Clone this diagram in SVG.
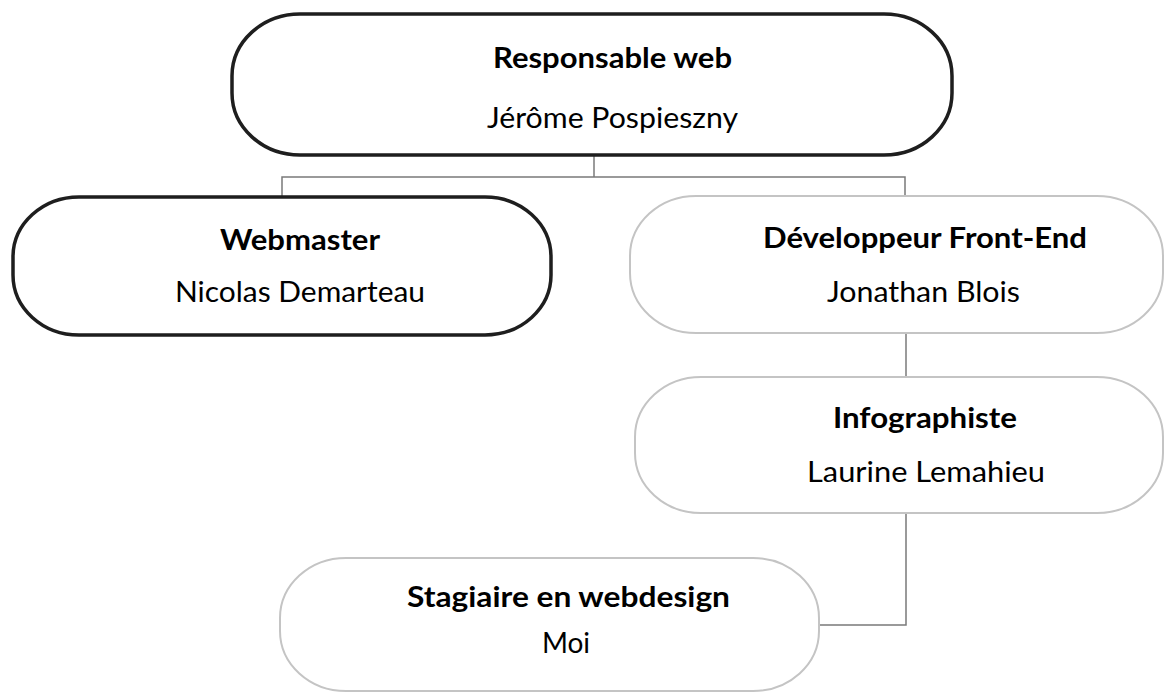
<svg xmlns="http://www.w3.org/2000/svg" width="1166" height="693" viewBox="0 0 1166 693">
<style>
.bg{fill:#ffffff}
.dark{fill:#ffffff;stroke:#1e1e1e;stroke-width:3.5}
.light{fill:#ffffff;stroke:#c4c4c4;stroke-width:2}
.conn{fill:none;stroke:#7a7a7a;stroke-width:1.5}
.t{font-family:Lato,"Open Sans","DejaVu Sans",sans-serif;font-weight:700;font-size:28px;fill:#000}
.n{font-family:Lato,"Open Sans","DejaVu Sans",sans-serif;font-weight:400;font-size:28px;fill:#000}
</style>
<rect class="bg" x="0" y="0" width="1166" height="693"/>
<g id="connectors">
<path class="conn" d="M594,155 V177"/>
<path class="conn" d="M282,197 V177 H905 V196"/>
<path class="conn" d="M906,333 V377"/>
<path class="conn" d="M906,513 V625 H819"/>
</g>
<g id="node-responsable">
<rect class="dark" x="232" y="14" width="720" height="141" rx="68" ry="62"/>
<text class="t" x="493" y="68" textLength="239" lengthAdjust="spacingAndGlyphs" font-size="29">Responsable web</text>
<text class="n" x="487" y="128" textLength="251" lengthAdjust="spacingAndGlyphs" font-size="29">Jérôme Pospieszny</text>
</g>
<g id="node-webmaster">
<rect class="dark" x="13" y="197" width="538" height="138" rx="66" ry="60"/>
<text class="t" x="220" y="250" textLength="160" lengthAdjust="spacingAndGlyphs">Webmaster</text>
<text class="n" x="175" y="302" textLength="250" lengthAdjust="spacingAndGlyphs">Nicolas Demarteau</text>
</g>
<g id="node-developpeur">
<rect class="light" x="630" y="196" width="533" height="137" rx="66" ry="60"/>
<text class="t" x="763" y="248" textLength="324" lengthAdjust="spacingAndGlyphs">Développeur Front-End</text>
<text class="n" x="827" y="302" textLength="193" lengthAdjust="spacingAndGlyphs">Jonathan Blois</text>
</g>
<g id="node-infographiste">
<rect class="light" x="635" y="377" width="528" height="136" rx="66" ry="60"/>
<text class="t" x="833" y="428" textLength="184" lengthAdjust="spacingAndGlyphs">Infographiste</text>
<text class="n" x="807" y="482" textLength="238" lengthAdjust="spacingAndGlyphs">Laurine Lemahieu</text>
</g>
<g id="node-stagiaire">
<rect class="light" x="280" y="558" width="539" height="133" rx="66" ry="60"/>
<text class="t" x="407" y="607" textLength="323" lengthAdjust="spacingAndGlyphs">Stagiaire en webdesign</text>
<text class="n" x="566" y="653" text-anchor="middle">Moi</text>
</g>
</svg>
